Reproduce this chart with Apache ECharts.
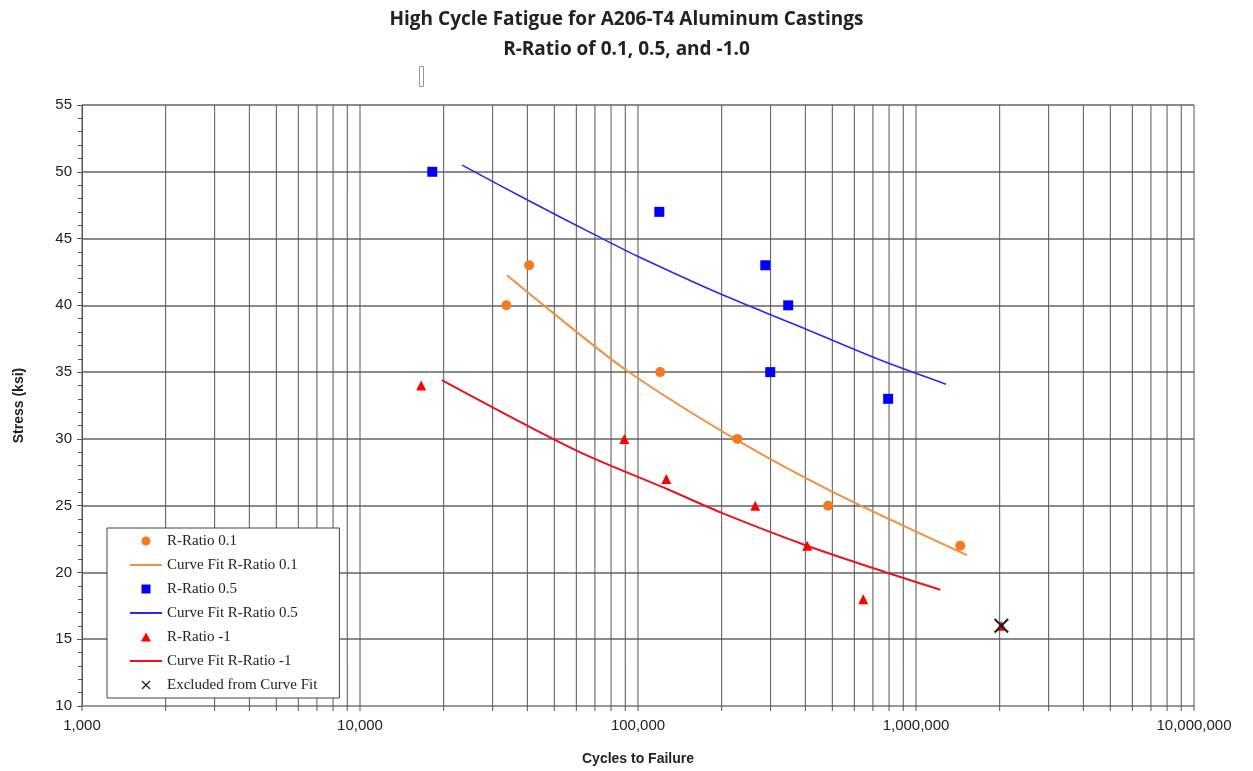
<!DOCTYPE html>
<html><head><meta charset="utf-8">
<script src="https://cdn.jsdelivr.net/npm/echarts@6/dist/echarts.min.js"></script>
<style>html,body{margin:0;padding:0;background:#fff}#c{width:1253px;height:771px}</style>
</head><body><div id="c"></div>
<script>
// ---- data ----
const titleLines = ['High Cycle Fatigue for A206-T4 Aluminum Castings', 'R-Ratio of 0.1, 0.5, and -1.0'];
const xTitle = 'Cycles to Failure';
const yTitle = 'Stress (ksi)';
const seriesNames = ['R-Ratio 0.1','Curve Fit R-Ratio 0.1','R-Ratio 0.5','Curve Fit R-Ratio 0.5','R-Ratio -1','Curve Fit R-Ratio -1','Excluded from Curve Fit'];

const r01Cycles = [33600, 40600, 120200, 227600, 483000, 1443000];
const r01Stress = [40, 43, 35, 30, 25, 22];
const r05Cycles = [18200, 119300, 287000, 347000, 299000, 794000];
const r05Stress = [50, 47, 43, 40, 35, 33];
const rm1Cycles = [16600, 89300, 126400, 264000, 406000, 646000, 2028000];
const rm1Stress = [34, 30, 27, 25, 22, 18, 16];
const exclCycles = [2028000];
const exclStress = [16];

const fit01Cycles = [33800, 49700, 91300, 227100, 505200, 1526000];
const fit01Stress = [42.25, 39.4, 35.1, 29.9, 26.0, 21.3];
const fit05Cycles = [23300, 39900, 71200, 99200, 203200, 362800, 744000, 1282000];
const fit05Stress = [50.5, 47.9, 45.2, 43.7, 40.75, 38.6, 35.9, 34.1];
const fitm1Cycles = [19700, 60400, 127200, 203200, 405400, 808500, 1223000];
const fitm1Stress = [34.4, 29.1, 26.25, 24.4, 22.0, 19.9, 18.7];

const xMin = 1000, xMax = 10000000;
const yMin = 10, yMax = 55, yStep = 5;
// vertical grid line positions (log decades 1..9)
const gridMultipliers = [1,2,3,4,5,6,7,8,9];
const gridDecades = [1000, 10000, 100000, 1000000];

const pairs = (xs, ys) => xs.map((x, i) => [x, ys[i]]);
const vLines = [];
gridDecades.forEach(d => gridMultipliers.forEach(m => vLines.push([d * m])));
vLines.push([xMax]);

const xPath = 'path://M1,0 L5,4 L9,0 L10,1 L6,5 L10,9 L9,10 L5,6 L1,10 L0,9 L4,5 L0,1 Z';
const sqPath = 'path://M0,0 L10,0 L10,10 L0,10 Z';
const triPath = 'path://M5,0 L10,9 L0,9 Z';
const linePath = 'path://M0,0 L32,0 L32,2 L0,2 Z';

const C01 = '#f57a1f', C01L = '#f0913f';
const C05 = '#0000ff', C05L = '#2a2ae6';
const CM1 = '#ff0000', CM1L = '#e8141e';

const chart = echarts.init(document.getElementById('c'), null, {renderer: 'canvas'});
chart.setOption({
  animation: false,
  backgroundColor: '#ffffff',
  title: {
    text: titleLines.join('\n'),
    left: 'center', top: 0,
    textStyle: {fontFamily: 'Open Sans', fontWeight: 'bold', fontSize: 19, lineHeight: 30, color: '#222'}
  },
  graphic: [{
    type: 'rect', left: 419, top: 66, shape: {width: 4, height: 20},
    style: {fill: '#fff', stroke: '#999', lineWidth: 1}
  }],
  grid: {left: 82, right: 59, top: 105, bottom: 65, containLabel: false},
  xAxis: {
    type: 'log', logBase: 10, min: xMin, max: xMax,
    name: xTitle, nameLocation: 'middle', nameGap: 46,
    nameTextStyle: {fontFamily: 'Liberation Sans', fontWeight: 'bold', fontSize: 14, color: '#222'},
    axisLine: {show: true, lineStyle: {color: '#999', width: 2}},
    axisTick: {show: false},
    splitLine: {show: false},
    axisLabel: {
      fontFamily: 'Liberation Sans', fontSize: 15, color: '#222', margin: 12,
      formatter: v => Math.round(v).toLocaleString('en-US')
    }
  },
  yAxis: {
    type: 'value', min: yMin, max: yMax, interval: yStep,
    name: yTitle, nameLocation: 'middle', nameGap: 56, nameRotate: 90,
    nameTextStyle: {fontFamily: 'Liberation Sans', fontWeight: 'bold', fontSize: 14, color: '#222'},
    axisLine: {show: true, lineStyle: {color: '#555', width: 1}},
    axisTick: {show: true, length: 5, lineStyle: {color: '#555'}},
    minorTick: {show: true, splitNumber: 5, length: 4, lineStyle: {color: '#555'}},
    splitLine: {show: true, lineStyle: {color: '#8a8a8a', width: 2}},
    axisLabel: {fontFamily: 'Liberation Sans', fontSize: 15, color: '#222', margin: 10}
  },
  legend: {
    data: [
      {name: seriesNames[0], icon: 'circle'},
      {name: seriesNames[1], icon: linePath},
      {name: seriesNames[2], icon: sqPath},
      {name: seriesNames[3], icon: linePath},
      {name: seriesNames[4], icon: triPath},
      {name: seriesNames[5], icon: linePath},
      {name: seriesNames[6], icon: xPath}
    ],
    symbolKeepAspect: true,
    orient: 'vertical', left: 107, top: 528,
    padding: [5, 22, 5, 23],
    itemGap: 8, itemWidth: 32, itemHeight: 9, itemTextGap: 3,
    backgroundColor: '#fff', borderColor: '#444', borderWidth: 1,
    textStyle: {fontFamily: 'Liberation Serif', fontSize: 15, lineHeight: 16, color: '#222'},
    selectedMode: false
  },
  series: [
    {
      type: 'custom', name: 'grid', silent: true, z: 1, clip: false,
      data: vLines,
      renderItem: (params, api) => {
        const v = api.value(0);
        const t = api.coord([v, yMax]);
        const b = api.coord([v, yMin]);
        return {type: 'line', shape: {x1: t[0], y1: t[1], x2: b[0], y2: b[1] + 5},
          style: {stroke: '#555', lineWidth: 1}};
      }
    },
    {name: seriesNames[0], type: 'scatter', data: pairs(r01Cycles, r01Stress), symbol: 'circle', symbolSize: 10,
      itemStyle: {color: C01, opacity: 1}, z: 5},
    {name: seriesNames[1], type: 'line', data: pairs(fit01Cycles, fit01Stress), symbol: 'none', smooth: 0.3,
      lineStyle: {color: C01L, width: 2}, itemStyle: {color: C01L}, z: 4},
    {name: seriesNames[2], type: 'scatter', data: pairs(r05Cycles, r05Stress), symbol: 'rect', symbolSize: 10,
      itemStyle: {color: C05, opacity: 1}, z: 5},
    {name: seriesNames[3], type: 'line', data: pairs(fit05Cycles, fit05Stress), symbol: 'none', smooth: 0.3,
      lineStyle: {color: C05L, width: 1.6}, itemStyle: {color: C05L}, z: 4},
    {name: seriesNames[4], type: 'scatter', data: pairs(rm1Cycles, rm1Stress), symbol: 'triangle', symbolSize: 10,
      itemStyle: {color: CM1, opacity: 1}, z: 5},
    {name: seriesNames[5], type: 'line', data: pairs(fitm1Cycles, fitm1Stress), symbol: 'none', smooth: 0.3,
      lineStyle: {color: CM1L, width: 2}, itemStyle: {color: CM1L}, z: 4},
    {name: seriesNames[6], type: 'scatter', data: pairs(exclCycles, exclStress), symbol: xPath, symbolSize: 15,
      itemStyle: {color: '#222', opacity: 1}, z: 6}
  ]
});
</script></body></html>
